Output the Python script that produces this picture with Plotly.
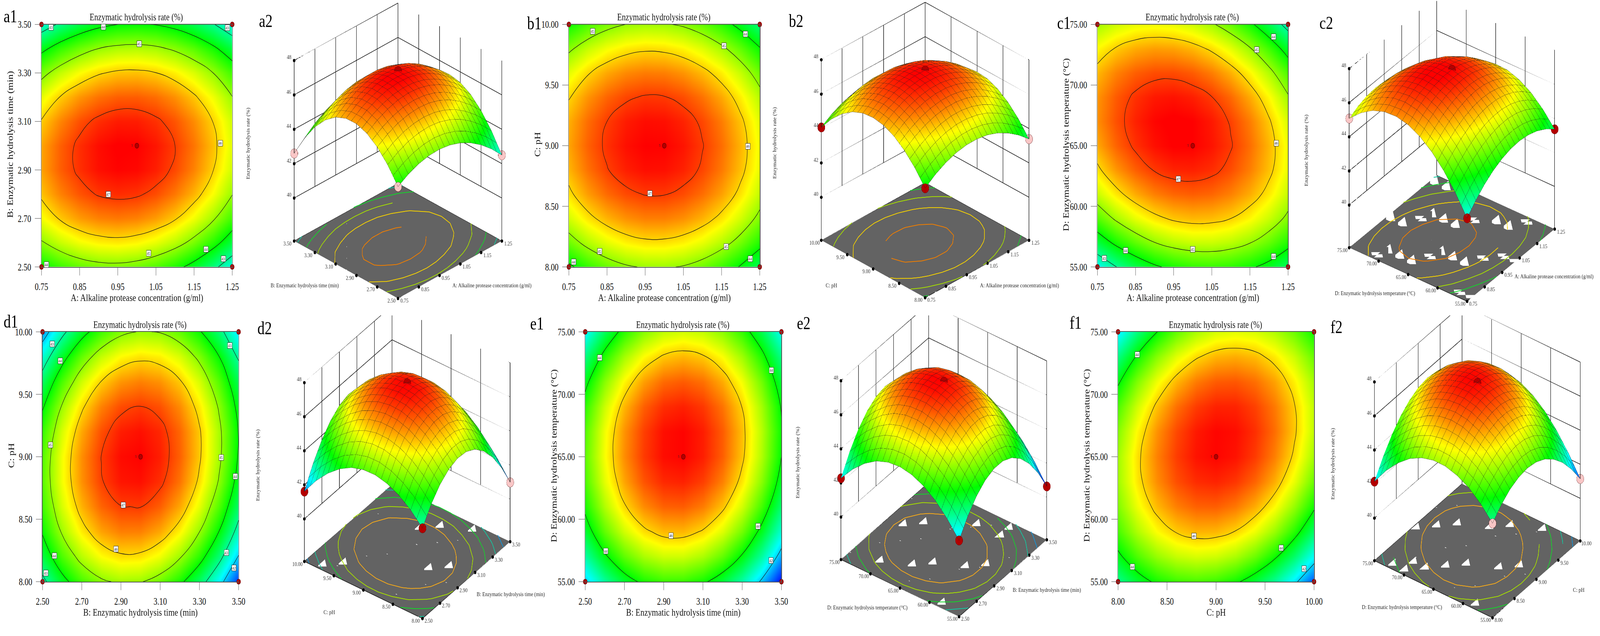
import math
import plotly.graph_objects as go

W = 5271
H = 1627

# factor levels of the response tables
A_grid = [0.75, 0.80, 0.85, 0.90, 0.95, 1.00, 1.05, 1.10, 1.15, 1.20, 1.25]
B_grid = [2.5, 2.6, 2.7, 2.8, 2.9, 3.0, 3.1, 3.2, 3.3, 3.4, 3.5]
C_grid = [8.0, 8.2, 8.4, 8.6, 8.8, 9.0, 9.2, 9.4, 9.6, 9.8, 10.0]
D_grid = [55, 57, 59, 61, 63, 65, 67, 69, 71, 73, 75]

A_ticks = [0.75, 0.85, 0.95, 1.05, 1.15, 1.25]
B_ticks = [2.5, 2.7, 2.9, 3.1, 3.3, 3.5]
C_ticks = [8.0, 8.5, 9.0, 9.5, 10.0]
D_ticks = [55, 60, 65, 70, 75]
rate_ticks = [40, 42, 44, 46, 48]

A_name = "A: Alkaline protease concentration (g/ml)"
B_name = "B: Enzymatic hydrolysis time (min)"
C_name = "C: pH"
D_name = "D: Enzymatic hydrolysis temperature (°C)"
rate_name = "Enzymatic hydrolysis rate (%)"

# hydrolysis rate, rows go up the y factor
rate_a = [
    [44.00, 44.39, 44.66, 44.81, 44.84, 44.75, 44.54, 44.21, 43.76, 43.19, 42.50],
    [44.94, 45.34, 45.63, 45.79, 45.84, 45.76, 45.56, 45.25, 44.81, 44.26, 43.58],
    [45.64, 46.06, 46.36, 46.53, 46.59, 46.53, 46.35, 46.05, 45.62, 45.08, 44.42],
    [46.10, 46.53, 46.84, 47.04, 47.11, 47.06, 46.89, 46.60, 46.20, 45.67, 45.02],
    [46.32, 46.77, 47.09, 47.30, 47.38, 47.35, 47.20, 46.92, 46.53, 46.01, 45.38],
    [46.30, 46.76, 47.10, 47.32, 47.42, 47.40, 47.26, 47.00, 46.62, 46.12, 45.50],
    [46.04, 46.51, 46.87, 47.10, 47.22, 47.21, 47.08, 46.84, 46.47, 45.99, 45.38],
    [45.54, 46.03, 46.40, 46.64, 46.77, 46.78, 46.67, 46.44, 46.08, 45.61, 45.02],
    [44.80, 45.30, 45.68, 45.95, 46.09, 46.11, 46.01, 45.79, 45.46, 45.00, 44.42],
    [43.82, 44.34, 44.73, 45.01, 45.16, 45.20, 45.12, 44.91, 44.59, 44.14, 43.58],
    [42.60, 43.13, 43.54, 43.83, 44.00, 44.05, 43.98, 43.79, 43.48, 43.05, 42.50],
]
rate_b = [
    [43.87, 44.34, 44.69, 44.93, 45.05, 45.06, 44.96, 44.74, 44.40, 43.95, 43.39],
    [44.73, 45.19, 45.54, 45.78, 45.90, 45.90, 45.79, 45.57, 45.23, 44.78, 44.21],
    [45.40, 45.86, 46.20, 46.43, 46.55, 46.55, 46.44, 46.21, 45.87, 45.41, 44.84],
    [45.89, 46.35, 46.69, 46.91, 47.02, 47.02, 46.90, 46.67, 46.33, 45.87, 45.29],
    [46.19, 46.64, 46.98, 47.20, 47.31, 47.30, 47.18, 46.94, 46.59, 46.13, 45.55],
    [46.30, 46.75, 47.08, 47.30, 47.40, 47.39, 47.27, 47.02, 46.67, 46.20, 45.62],
    [46.23, 46.67, 47.00, 47.22, 47.32, 47.30, 47.17, 46.93, 46.57, 46.10, 45.51],
    [45.97, 46.41, 46.73, 46.94, 47.04, 47.02, 46.89, 46.64, 46.28, 45.80, 45.21],
    [45.52, 45.96, 46.28, 46.48, 46.57, 46.55, 46.41, 46.16, 45.80, 45.32, 44.72],
    [44.89, 45.32, 45.64, 45.84, 45.93, 45.90, 45.76, 45.50, 45.13, 44.65, 44.05],
    [44.07, 44.50, 44.81, 45.01, 45.09, 45.06, 44.92, 44.66, 44.28, 43.79, 43.19],
]
rate_c = [
    [42.38, 43.00, 43.51, 43.90, 44.17, 44.33, 44.37, 44.29, 44.10, 43.79, 43.36],
    [43.57, 44.16, 44.63, 44.99, 45.23, 45.35, 45.36, 45.25, 45.02, 44.68, 44.21],
    [44.55, 45.11, 45.55, 45.87, 46.08, 46.17, 46.14, 46.00, 45.74, 45.36, 44.87],
    [45.33, 45.85, 46.26, 46.55, 46.72, 46.78, 46.72, 46.54, 46.25, 45.84, 45.31],
    [45.90, 46.40, 46.77, 47.03, 47.17, 47.19, 47.10, 46.89, 46.56, 46.12, 45.56],
    [46.28, 46.74, 47.08, 47.30, 47.41, 47.40, 47.27, 47.03, 46.67, 46.19, 45.60],
    [46.45, 46.87, 47.18, 47.37, 47.44, 47.40, 47.24, 46.96, 46.57, 46.06, 45.43],
    [46.41, 46.80, 47.08, 47.24, 47.28, 47.20, 47.01, 46.70, 46.27, 45.73, 45.07],
    [46.17, 46.53, 46.77, 46.89, 46.90, 46.79, 46.56, 46.22, 45.76, 45.19, 44.49],
    [45.72, 46.05, 46.26, 46.35, 46.32, 46.18, 45.92, 45.54, 45.05, 44.44, 43.72],
    [45.08, 45.37, 45.55, 45.60, 45.55, 45.37, 45.08, 44.67, 44.14, 43.50, 42.74],
]
rate_d = [
    [42.81, 43.76, 44.46, 44.90, 45.10, 45.04, 44.73, 44.17, 43.36, 42.30, 40.99],
    [43.54, 44.51, 45.23, 45.70, 45.92, 45.89, 45.61, 45.07, 44.29, 43.25, 41.96],
    [44.07, 45.07, 45.81, 46.31, 46.55, 46.54, 46.28, 45.77, 45.01, 43.99, 42.73],
    [44.42, 45.44, 46.21, 46.73, 46.99, 47.01, 46.77, 46.29, 45.55, 44.56, 43.32],
    [44.59, 45.63, 46.43, 46.97, 47.26, 47.30, 47.09, 46.63, 45.91, 44.95, 43.73],
    [44.56, 45.63, 46.45, 47.01, 47.33, 47.39, 47.20, 46.76, 46.07, 45.13, 43.94],
    [44.35, 45.44, 46.28, 46.87, 47.21, 47.30, 47.14, 46.72, 46.06, 45.14, 43.97],
    [43.94, 45.06, 45.92, 46.54, 46.90, 47.01, 46.87, 46.48, 45.84, 44.94, 43.80],
    [43.35, 44.49, 45.38, 46.02, 46.40, 46.54, 46.42, 46.06, 45.44, 44.57, 43.45],
    [42.58, 43.74, 44.66, 45.32, 45.73, 45.89, 45.80, 45.46, 44.86, 44.02, 42.92],
    [41.61, 42.80, 43.74, 44.42, 44.86, 45.04, 44.97, 44.65, 44.08, 43.26, 42.19],
]
rate_e = [
    [41.98, 42.95, 43.68, 44.16, 44.39, 44.38, 44.12, 43.62, 42.87, 41.88, 40.64],
    [42.91, 43.89, 44.63, 45.13, 45.38, 45.38, 45.14, 44.65, 43.92, 42.94, 41.71],
    [43.64, 44.64, 45.39, 45.90, 46.16, 46.18, 45.95, 45.48, 44.76, 43.79, 42.58],
    [44.16, 45.18, 45.95, 46.47, 46.75, 46.78, 46.57, 46.11, 45.40, 44.45, 43.26],
    [44.49, 45.52, 46.30, 46.84, 47.13, 47.18, 46.98, 46.54, 45.85, 44.91, 43.73],
    [44.62, 45.66, 46.46, 47.01, 47.32, 47.38, 47.20, 46.77, 46.09, 45.17, 44.00],
    [44.55, 45.61, 46.42, 46.98, 47.31, 47.38, 47.21, 46.79, 46.13, 45.22, 44.07],
    [44.29, 45.36, 46.19, 46.77, 47.10, 47.19, 47.03, 46.63, 45.99, 45.09, 43.95],
    [43.81, 44.90, 45.74, 46.34, 46.69, 46.79, 46.65, 46.26, 45.63, 44.75, 43.63],
    [43.14, 44.24, 45.10, 45.71, 46.07, 46.19, 46.06, 45.69, 45.07, 44.21, 43.10],
    [42.28, 43.40, 44.27, 44.89, 45.27, 45.40, 45.29, 44.93, 44.33, 43.48, 42.38],
]
rate_f = [
    [43.05, 43.68, 44.14, 44.40, 44.49, 44.39, 44.11, 43.64, 43.00, 42.16, 41.15],
    [43.85, 44.52, 45.01, 45.32, 45.44, 45.38, 45.14, 44.71, 44.10, 43.31, 42.33],
    [44.46, 45.17, 45.70, 46.04, 46.20, 46.18, 45.98, 45.59, 45.02, 44.26, 43.32],
    [44.85, 45.60, 46.17, 46.55, 46.75, 46.77, 46.60, 46.25, 45.72, 45.00, 44.11],
    [45.06, 45.85, 46.46, 46.88, 47.11, 47.17, 47.04, 46.73, 46.24, 45.56, 44.70],
    [45.07, 45.90, 46.54, 47.00, 47.28, 47.37, 47.28, 47.01, 46.55, 45.91, 45.09],
    [44.88, 45.74, 46.43, 46.92, 47.24, 47.37, 47.32, 47.09, 46.67, 46.07, 45.28],
    [44.50, 45.40, 46.12, 46.66, 47.01, 47.18, 47.17, 46.97, 46.59, 46.03, 45.28],
    [43.91, 44.86, 45.61, 46.19, 46.58, 46.79, 46.82, 46.66, 46.32, 45.79, 45.09],
    [43.13, 44.11, 44.91, 45.52, 45.95, 46.20, 46.26, 46.15, 45.84, 45.36, 44.69],
    [42.15, 43.17, 44.00, 44.66, 45.12, 45.41, 45.51, 45.43, 45.17, 44.72, 44.09],
]

# contour labels as printed on the 2D plots: x, y, level
labels_a = [(0.775, 3.488, "43"), (0.912, 3.489, "44"), (1.237, 3.486, "43"), (1.006, 3.42, "45"), (1.219, 3.01, "46"),
            (0.925, 2.80, "47"), (1.031, 2.557, "45"), (1.181, 2.572, "44"), (1.227, 2.534, "43"), (0.763, 2.51, "44")]
labels_b = [(0.812, 9.943, "45"), (1.2125, 9.92, "44"), (1.156, 9.825, "45"), (1.219, 8.995, "46"), (0.962, 8.605, "47"),
            (0.831, 8.13, "45"), (1.162, 8.168, "45"), (1.225, 8.068, "44"), (0.763, 8.043, "44")]
labels_c = [(1.212, 73.97, "44"), (1.168, 72.92, "45"), (1.219, 65.2, "46"), (0.9625, 62.25, "47"), (1.0, 56.47, "45"),
            (1.212, 55.88, "44"), (0.824, 56.35, "44"), (0.768, 55.7, "43")]
labels_d = [(2.55, 9.904, "43"), (2.59, 9.767, "44"), (3.455, 9.892, "43"), (2.541, 9.095, "45"), (3.411, 8.995, "45"),
            (3.483, 8.843, "44"), (2.912, 8.615, "47"), (2.875, 8.261, "46"), (2.561, 8.209, "44"), (2.517, 8.068, "43"),
            (3.438, 8.233, "43"), (3.476, 8.111, "42")]
labels_e = [(2.573, 72.93, "44"), (3.449, 71.93, "44"), (3.381, 59.45, "44"), (2.937, 58.69, "46"), (2.605, 57.45, "44"),
            (3.447, 56.7, "42")]
labels_f = [(8.198, 73.19, "44"), (8.775, 58.64, "46"), (8.148, 56.19, "44"), (9.666, 57.71, "44"), (9.898, 56.04, "42")]

red = "#b30000"
pink = "#f9c6c6"
color_top = {47: "#ee7d00", 46: "#f3d000", 45: "#a4dc00", 44: "#14d42a", 43: "#12c8a0"}
color_low = {46: "#f2a81a", 45: "#a4dc00", 44: "#14d42a", 43: "#12c8a0", 42: "#1296dc"}

# one dict per panel pair; px values are places on the page
panels = [
    dict(name="a", xg=A_grid, yg=B_grid, z=rate_a, xt=A_ticks, yt=B_ticks, xn=A_name, yn=B_name, labels=labels_a,
         start=43, step=1, floor=color_top, points=[pink, pink, pink, red],
         box=(132, 761, 60.7, 688.3), letter1=(29, 39), letter2=(871, 51),
         cx=1308, cy=387, elev=25.5, phi=45, aspect=1.06, zx=814, zy=369,
         nl=(1000, 736), nr=(1617, 736)),
    dict(name="b", xg=A_grid, yg=C_grid, z=rate_b, xt=A_ticks, yt=C_ticks, xn=A_name, yn=C_name, labels=labels_b,
         start=44, step=1, floor=color_top, points=[red, red, pink, red],
         box=(1871, 2500.5, 60.7, 688.3), letter1=(1757, 57), letter2=(2620, 51),
         cx=3046, cy=385, elev=25.5, phi=45, aspect=1.06, zx=2550, zy=367,
         nl=(2736, 736), nr=(3357, 736)),
    dict(name="c", xg=A_grid, yg=D_grid, z=rate_c, xt=A_ticks, yt=D_ticks, xn=A_name, yn=D_name, labels=labels_c,
         start=43, step=1, floor=color_top, points=[red, pink, red, red],
         box=(3614, 4242.6, 60.7, 688.3), letter1=(3503, 56), letter2=(4368, 56),
         cx=4783, cy=382, elev=28.5, phi=36.6, aspect=1.08, zx=4303, zy=387,
         nl=(4529, 757), nr=(5120, 713)),
    dict(name="d", xg=B_grid, yg=C_grid, z=rate_d, xt=B_ticks, yt=C_ticks, xn=B_name, yn=C_name, labels=labels_d,
         start=42, step=1, floor=color_low, points=[red, red, pink, red],
         box=(135.5, 782, 856.4, 1503), letter1=(31, 829), letter2=(868, 846),
         cx=1338, cy=1193, elev=30.5, phi=36.6, aspect=1.1, zx=846, zy=1201,
         nl=(1081, 1582), nr=(1679, 1535)),
    dict(name="e", xg=B_grid, yg=D_grid, z=rate_e, xt=B_ticks, yt=D_ticks, xn=B_name, yn=D_name, labels=labels_e,
         start=42, step=2, floor=color_low, points=[red, red, red, red],
         box=(1925, 2572, 856.4, 1503), letter1=(1766, 834), letter2=(2645, 833),
         cx=3108, cy=1188, elev=30.5, phi=36.6, aspect=1.1, zx=2626, zy=1195,
         nl=(2856, 1570), nr=(3447, 1524)),
    dict(name="f", xg=C_grid, yg=D_grid, z=rate_f, xt=C_ticks, yt=D_ticks, xn=C_name, yn=D_name, labels=labels_f,
         start=42, step=2, floor=color_low, points=[pink, red, pink, red],
         box=(3682, 4328.4, 856.4, 1503), letter1=(3542, 832), letter2=(4402, 843),
         cx=4867, cy=1191, elev=30.5, phi=36.6, aspect=1.1, zx=4390, zy=1198,
         nl=(4618, 1569), nr=(5201, 1524)),
]

serif = "Liberation Serif"
scale = [[0, "#0000ff"], [0.25, "#00ffff"], [0.5, "#00ff00"], [0.75, "#ffff00"], [1, "#ff0000"]]
rate_min = 40.6
rate_max = 47.4
floor_z = 37.5
top_z = 48
view_dist = 1.66
k3d = 412.0
cube = 1.2


def floor_lines(xs, ys, table, level):
    # marching squares over the table cells
    lx, ly = [], []
    for j in range(len(ys) - 1):
        for i in range(len(xs) - 1):
            c = [(xs[i], ys[j], table[j][i]), (xs[i + 1], ys[j], table[j][i + 1]),
                 (xs[i + 1], ys[j + 1], table[j + 1][i + 1]), (xs[i], ys[j + 1], table[j + 1][i])]
            pts = []
            for k in range(4):
                p, q = c[k], c[(k + 1) % 4]
                if (p[2] - level) * (q[2] - level) < 0:
                    t = (level - p[2]) / (q[2] - p[2])
                    pts.append((p[0] + t * (q[0] - p[0]), p[1] + t * (q[1] - p[1])))
            for n in range(0, len(pts) - 1, 2):
                lx += [pts[n][0], pts[n + 1][0], None]
                ly += [pts[n][1], pts[n + 1][1], None]
    return lx, ly


def floor_mesh(xs, ys):
    # floor plate split along the table grid
    vx, vy, ti, tj, tk = [], [], [], [], []
    nx = len(xs)
    for yv in ys:
        for xv in xs:
            vx.append(xv)
            vy.append(yv)
    for j in range(len(ys) - 1):
        for i in range(nx - 1):
            a = j * nx + i
            ti += [a, a]
            tj += [a + 1, a + nx + 1]
            tk += [a + nx + 1, a + nx]
    return vx, vy, ti, tj, tk


def px(x):
    return x / W


def py(y):
    return 1 - y / H


def text_at(x, y, text, size, angle=0, color="#111"):
    return dict(x=px(x), y=py(y), xref="paper", yref="paper", text=text, showarrow=False, textangle=angle,
                xanchor="center", yanchor="middle", font=dict(family=serif, size=size, color=color))


fig = go.Figure()
notes = []
layout = {}

for n, p in enumerate(panels):
    sfx = "" if n == 0 else str(n + 1)
    xg, yg, z = p["xg"], p["yg"], p["z"]
    xa, ya = "x" + sfx, "y" + sfx
    left, right, top, bottom = p["box"]
    xmid = xg[5]
    ymid = yg[5]

    # 2D contour plot
    fig.add_trace(go.Heatmap(x=xg, y=yg, z=z, xaxis=xa, yaxis=ya, zsmooth="best", colorscale=scale,
                             zmin=rate_min, zmax=rate_max, showscale=False, hoverinfo="skip"))
    fig.add_trace(go.Contour(x=xg, y=yg, z=z, xaxis=xa, yaxis=ya, showscale=False, hoverinfo="skip",
                             contours=dict(coloring="none", start=p["start"], end=47, size=p["step"]),
                             line=dict(color="#1a1a1a", width=1.3, smoothing=1.3)))
    fig.add_trace(go.Scatter(x=[xg[0], xg[-1], xg[0], xg[-1], xmid], y=[yg[0], yg[0], yg[-1], yg[-1], ymid],
                             xaxis=xa, yaxis=ya, mode="markers", cliponaxis=False, hoverinfo="skip",
                             marker=dict(size=13, color=red, line=dict(color="#5a0000", width=1))))

    ax = dict(showgrid=False, zeroline=False, showline=True, mirror=True, linecolor="#555", linewidth=1.5,
              ticks="outside", ticklen=20, tickwidth=1.2, tickcolor="#444", tickformat=".2f",
              tickfont=dict(family=serif, size=25, color="#111"), ticklabelstandoff=7)
    layout["xaxis" + sfx] = dict(ax, domain=[px(left), px(right)], range=[xg[0], xg[-1]], tickvals=p["xt"],
                                 anchor=ya)
    layout["yaxis" + sfx] = dict(ax, domain=[py(bottom), py(top)], range=[yg[0], yg[-1]], tickvals=p["yt"],
                                 anchor=xa)

    for lx, ly, txt in p["labels"]:
        notes.append(dict(x=lx, y=ly, xref=xa, yref=ya, text=txt, showarrow=False, bgcolor="white",
                          bordercolor="#222", borderwidth=1, borderpad=1,
                          font=dict(family=serif, size=11, color="#111")))
    notes.append(dict(x=xmid, y=ymid, xref=xa, yref=ya, text="5", showarrow=False, xshift=-15,
                      font=dict(family=serif, size=9, color="#222")))
    notes.append(text_at((left + right) / 2 - 2, top - 19, rate_name, 25))
    notes.append(text_at((left + right) / 2, bottom + 80, p["xn"], 26))
    notes.append(text_at(left - 103, (top + bottom) / 2 - 3, p["yn"], 26, angle=-90))
    notes.append(text_at(p["letter1"][0], p["letter1"][1], p["name"] + "1", 47, color="#000"))
    notes.append(text_at(p["letter2"][0], p["letter2"][1], p["name"] + "2", 47, color="#000"))

    # 3D surface
    sc = "scene" + sfx
    x0, x1, y0, y1 = xg[0], xg[-1], yg[0], yg[-1]
    vx, vy, ti, tj, tk = floor_mesh(xg, yg)
    fig.add_trace(go.Mesh3d(x=vx, y=vy, z=[floor_z] * len(vx), i=ti, j=tj, k=tk, scene=sc, color="#636363",
                            hoverinfo="skip", flatshading=True,
                            lighting=dict(ambient=1, diffuse=0, specular=0)))
    for level, col in p["floor"].items():
        lx, ly = floor_lines(xg, yg, z, level)
        if lx:
            fig.add_trace(go.Scatter3d(x=lx, y=ly, z=[None if v is None else floor_z + 0.03 for v in lx], scene=sc,
                                       mode="lines", line=dict(color=col, width=4), hoverinfo="skip"))

    # walls, drawn from the tick lists so the grid stops at the lowest tick
    wx, wy, wz = [], [], []
    for v in p["xt"]:
        wx += [v, v, None]
        wy += [y1, y1, None]
        wz += [rate_ticks[0], top_z, None]
    for v in p["yt"]:
        wx += [x1, x1, None]
        wy += [v, v, None]
        wz += [rate_ticks[0], top_z, None]
    for v in rate_ticks:
        wx += [x0, x1, x1, None]
        wy += [y1, y1, y0, None]
        wz += [v, v, v, None]
    for cxv, cyv in [(x0, y1), (x1, y1), (x1, y0)]:
        wx += [cxv, cxv, None]
        wy += [cyv, cyv, None]
        wz += [floor_z, top_z, None]
    wx += [x0, x1, x1, x0, x0]
    wy += [y0, y0, y1, y1, y0]
    wz += [floor_z] * 5
    fig.add_trace(go.Scatter3d(x=wx, y=wy, z=wz, scene=sc, mode="lines", line=dict(color="#111", width=3),
                               hoverinfo="skip"))

    fig.add_trace(go.Surface(x=xg, y=yg, z=z, scene=sc, colorscale=scale, cmin=rate_min, cmax=rate_max, showscale=False,
                             hoverinfo="skip", lightposition=dict(x=-800, y=700, z=1500),
                             lighting=dict(ambient=1.0, diffuse=0.2, specular=0.35, roughness=0.5, fresnel=0.4),
                             contours=dict(
                                 x=dict(show=True, start=x0, end=x1, size=(x1 - x0) / 20, color="#222", width=1),
                                 y=dict(show=True, start=y0, end=y1, size=(y1 - y0) / 20, color="#222", width=1),
                                 z=dict(show=False))))

    # tick dots
    tx = list(p["xt"]) + [x0] * len(p["yt"]) + [x0] * len(rate_ticks)
    ty = [y0] * len(p["xt"]) + list(p["yt"]) + [y1] * len(rate_ticks)
    tz = [floor_z] * (len(p["xt"]) + len(p["yt"])) + rate_ticks
    fig.add_trace(go.Scatter3d(x=tx, y=ty, z=tz, scene=sc, mode="markers", hoverinfo="skip",
                               marker=dict(size=5, color="black")))

    # design points: front, left, right, back, centre
    mx = [x0, x0, x1, x1, xmid]
    my = [y0, y1, y0, y1, ymid]
    mz = [z[0][0], z[-1][0], z[0][-1], z[-1][-1], z[5][5]]
    fig.add_trace(go.Scatter3d(x=mx, y=my, z=mz, scene=sc, mode="markers", hoverinfo="skip",
                               marker=dict(size=14, color=p["points"] + [red], line=dict(color="#4a0000", width=1))))

    tick3d = []
    for v in p["xt"]:
        tick3d.append(dict(x=v, y=y0, z=floor_z, text=f"{v:.2f}", showarrow=False, xshift=20, yshift=-7,
                           font=dict(family=serif, size=15, color="#333")))
    for v in p["yt"]:
        tick3d.append(dict(x=x0, y=v, z=floor_z, text=f"{v:.2f}", showarrow=False, xshift=-22, yshift=-7,
                           font=dict(family=serif, size=15, color="#333")))
    for v in rate_ticks:
        tick3d.append(dict(x=x0, y=y1, z=v, text=str(v), showarrow=False, xshift=-17, yshift=8,
                           font=dict(family=serif, size=15, color="#333")))

    # scene fills its row, camera centre shifted a little to put the cube at its place
    row_top = 0 if n < 3 else 814
    row_bot = 813 if n < 3 else H
    e = math.radians(p["elev"])
    f = math.radians(p["phi"])
    shift = ((row_top + row_bot) / 2 - p["cy"]) / k3d
    cen = (-shift * math.sin(e) * math.cos(f), -shift * math.sin(e) * math.sin(f), -shift * math.cos(e))
    eye = (cen[0] - view_dist * math.cos(e) * math.cos(f), cen[1] - view_dist * math.cos(e) * math.sin(f),
           cen[2] + view_dist * math.sin(e))
    half = 400
    hidden = dict(visible=False, showgrid=False, zeroline=False, showspikes=False)
    layout[sc] = dict(
        domain=dict(x=[px(p["cx"] - half), px(p["cx"] + half)], y=[py(row_bot), py(row_top)]),
        xaxis=dict(hidden, range=[x0, x1]), yaxis=dict(hidden, range=[y0, y1]),
        zaxis=dict(hidden, range=[floor_z, top_z]),
        aspectmode="manual", aspectratio=dict(x=cube, y=cube, z=cube * p["aspect"]),
        bgcolor="rgba(0,0,0,0)", annotations=tick3d,
        camera=dict(up=dict(x=0, y=0, z=1), center=dict(x=cen[0], y=cen[1], z=cen[2]),
                    eye=dict(x=eye[0], y=eye[1], z=eye[2]), projection=dict(type="orthographic")))

    notes.append(text_at(p["zx"], p["zy"], rate_name, 15, angle=-90, color="#222"))
    notes.append(text_at(p["nl"][0], p["nl"][1], p["yn"], 15.5, color="#222"))
    notes.append(text_at(p["nr"][0], p["nr"][1], p["xn"], 15.5, color="#222"))

fig.update_layout(width=W, height=H, margin=dict(l=0, r=0, t=0, b=0), showlegend=False, paper_bgcolor="white",
                  plot_bgcolor="white", annotations=notes, **layout)

# page fitted to whatever window it opens in, with the small offset seen in the photographs taken out
fit = ("document.documentElement.style.overflow='hidden';document.body.style.margin='0';"
       "var zf=window.innerWidth/%d;document.body.style.zoom=zf;document.body.style.transformOrigin='0 0';"
       "document.body.style.transform='translate('+(-13.5/zf)+'px,'+(-10.5/zf)+'px) "
       "scale(1.0086,'+(1.005*window.innerHeight/(%d*zf))+')';" % (W, H))
fig.write_html("out.html", post_script=fit, config={"displayModeBar": False})
